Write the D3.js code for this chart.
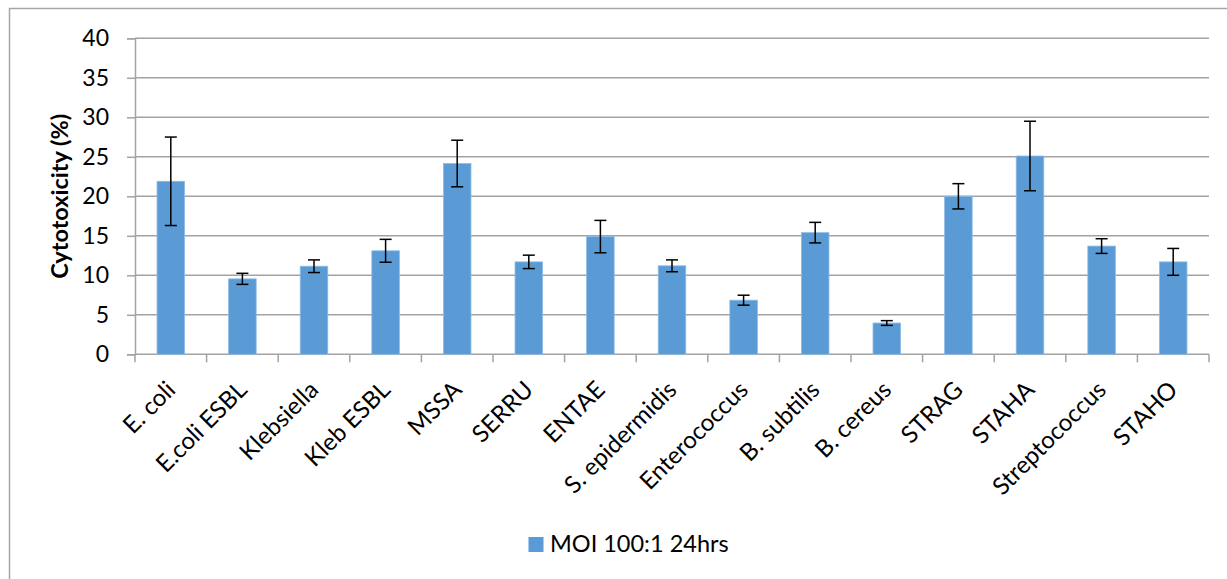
<!DOCTYPE html>
<html>
<head>
<meta charset="utf-8">
<script src="https://cdn.jsdelivr.net/npm/d3@7"></script>
<style>
  html, body { margin: 0; padding: 0; background: #fff; }
  svg { display: block; }
  text { font-family: Lato, "Open Sans", sans-serif; fill: #000; }
</style>
</head>
<body>
<svg id="chart" width="1227" height="579"></svg>
<script>
const categories = ["E. coli", "E.coli ESBL", "Klebsiella", "Kleb ESBL", "MSSA", "SERRU", "ENTAE",
  "S. epidermidis", "Enterococcus", "B. subtilis", "B. cereus", "STRAG", "STAHA", "Streptococcus", "STAHO"];
const values = [21.9, 9.55, 11.15, 13.1, 24.15, 11.7, 14.9, 11.2, 6.85, 15.4, 3.96, 20.0, 25.1, 13.7, 11.7];
const errors = [5.6, 0.7, 0.8, 1.45, 2.95, 0.85, 2.05, 0.75, 0.63, 1.3, 0.3, 1.6, 4.4, 0.93, 1.7];
const yTicks = [0, 5, 10, 15, 20, 25, 30, 35, 40];
const seriesName = "MOI 100:1 24hrs";
const yTitle = "Cytotoxicity (%)";

const svg = d3.select("#chart");
const pLeft = 135, pRight = 1209, pTop = 38.3, pBottom = 354.3;
const gridColor = "#a3a3a3";
const barColor = "#5b9bd5";

// outer frame (top and left edges visible)
svg.append("path")
  .attr("d", "M9.5,580 L9.5,8.5 L1228,8.5")
  .attr("fill", "none").attr("stroke", "#a6a6a6").attr("stroke-width", 1.5);

const x = d3.scaleBand().domain(categories).range([pLeft, pRight]).paddingInner(0).paddingOuter(0);
const y = d3.scaleLinear().domain([0, 40]).range([pBottom, pTop]);

// y axis ticks + labels
const yAxis = d3.axisLeft(y).tickValues(yTicks).tickSize(8).tickPadding(18).tickFormat(d3.format("d"));
const gy = svg.append("g").attr("transform", `translate(${pLeft},0)`).call(yAxis);
gy.select(".domain").attr("stroke", gridColor).attr("stroke-width", 1.5);
gy.selectAll(".tick line").attr("stroke", gridColor).attr("stroke-width", 1.5);
gy.selectAll(".tick text").style("font-size", "23px").attr("font-family", "Lato, sans-serif").attr("fill", "#000");

// gridlines
svg.append("g").selectAll("line").data(yTicks.filter(d => d > 0)).join("line")
  .attr("x1", pLeft).attr("x2", pRight)
  .attr("y1", d => y(d)).attr("y2", d => y(d))
  .attr("stroke", gridColor).attr("stroke-width", 1.5);

// x axis (ticks at category boundaries)
const bounds = d3.range(categories.length + 1).map(i => pLeft + i * x.step());
svg.append("line").attr("x1", pLeft).attr("x2", pRight).attr("y1", pBottom).attr("y2", pBottom)
  .attr("stroke", gridColor).attr("stroke-width", 1.5);
svg.append("g").selectAll("line").data(bounds).join("line")
  .attr("x1", d => d).attr("x2", d => d).attr("y1", pBottom).attr("y2", pBottom + 8)
  .attr("stroke", gridColor).attr("stroke-width", 1.5);

// bars
const bw = x.step() * 0.385;
svg.append("g").selectAll("rect").data(categories).join("rect")
  .attr("x", (d) => x(d) + x.bandwidth() / 2 - bw / 2)
  .attr("y", (d, i) => y(values[i]))
  .attr("width", bw)
  .attr("height", (d, i) => y(0) - y(values[i]))
  .attr("fill", barColor)
  .attr("stroke", "#8fbbe6").attr("stroke-width", 0.8);

// error bars
const eg = svg.append("g").attr("stroke", "#000").attr("stroke-width", 1.5);
categories.forEach((c, i) => {
  const cx = x(c) + x.bandwidth() / 2;
  const hi = y(values[i] + errors[i]), lo = y(values[i] - errors[i]);
  eg.append("line").attr("x1", cx).attr("x2", cx).attr("y1", hi).attr("y2", lo);
  eg.append("line").attr("x1", cx - 6).attr("x2", cx + 6).attr("y1", hi).attr("y2", hi);
  eg.append("line").attr("x1", cx - 6).attr("x2", cx + 6).attr("y1", lo).attr("y2", lo);
});

// x labels
svg.append("g").selectAll("text").data(categories).join("text")
  .attr("transform", d => `translate(${x(d) + x.bandwidth() / 2 + 6},${pBottom + 37}) rotate(-45)`)
  .attr("text-anchor", "end")
  .style("font-size", "24px")
  .text(d => d);

// y title
svg.append("text")
  .attr("transform", `translate(68,${(pTop + pBottom) / 2}) rotate(-90)`)
  .attr("text-anchor", "middle")
  .style("font-size", "23.5px").style("font-weight", "bold")
  .text(yTitle);

// legend
svg.append("rect").attr("x", 528.5).attr("y", 537).attr("width", 15).attr("height", 15).attr("fill", barColor);
svg.append("text").attr("x", 550).attr("y", 552).style("font-size", "23.5px").text(seriesName);
</script>
</body>
</html>
